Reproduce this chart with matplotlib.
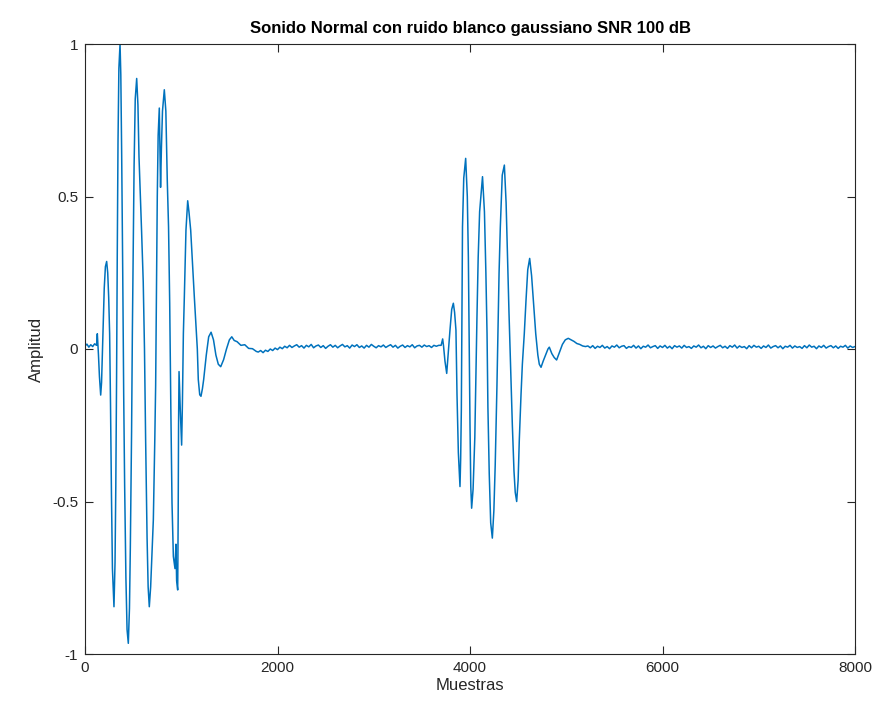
"""
Sonido normal (PCG) con ruido blanco gaussiano, SNR 100 dB.
"""
import numpy as np
import matplotlib
matplotlib.use("Agg")
import matplotlib.pyplot as plt

plt.rcParams['font.family'] = ['Liberation Sans', 'DejaVu Sans']
plt.rcParams['axes.unicode_minus'] = False

# leading baseline (samples 0..120)
lead_x = [0, 20, 40, 60, 80, 100, 120]
lead_y = [0.010, 0.016, 0.006, 0.014, 0.008, 0.017, 0.012]

# first heart sound (S1)
s1_x = [128, 140, 150, 163, 172, 180, 190, 200, 212, 225, 236, 246, 256,
        265, 275, 285, 301, 312, 320, 328, 335, 343, 352, 364, 372, 381,
        392, 402, 412, 425, 437, 450, 462, 471, 484, 492, 500, 510, 522,
        537, 550, 561, 588, 605, 618, 630, 645, 656, 668, 682, 697, 710,
        725, 734, 742, 751, 760, 772, 780, 785, 794, 805, 824, 840, 855,
        868, 880, 892, 904, 918, 935, 945, 952, 963, 968, 972, 977, 990,
        1004, 1012, 1022, 1032, 1049, 1067, 1080, 1098, 1136, 1167, 1177,
        1192, 1205, 1220, 1233, 1260, 1285, 1310, 1335, 1360, 1385, 1410,
        1440, 1470, 1500, 1525, 1550, 1580, 1620, 1660, 1700, 1740, 1780]
s1_y = [0.050, -0.020, -0.090, -0.151, -0.110, -0.020, 0.100, 0.200,
        0.270, 0.287, 0.250, 0.170, 0.050, -0.180, -0.480, -0.720, -0.845,
        -0.700, -0.450, -0.100, 0.300, 0.680, 0.920, 1.000, 0.900, 0.640,
        0.250, -0.150, -0.450, -0.750, -0.920, -0.965, -0.850, -0.650,
        -0.270, 0.050, 0.300, 0.600, 0.820, 0.887, 0.800, 0.630, 0.385,
        0.220, 0.000, -0.300, -0.620, -0.780, -0.845, -0.780, -0.660,
        -0.560, -0.300, -0.120, 0.170, 0.500, 0.700, 0.790, 0.620, 0.530,
        0.660, 0.780, 0.850, 0.780, 0.550, 0.400, 0.150, -0.200, -0.505,
        -0.680, -0.720, -0.640, -0.760, -0.790, -0.550, -0.250, -0.074,
        -0.200, -0.315, -0.180, 0.050, 0.170, 0.390, 0.486, 0.450, 0.390,
        0.170, 0.000, -0.100, -0.150, -0.155, -0.130, -0.100, -0.020,
        0.040, 0.055, 0.030, -0.020, -0.050, -0.058, -0.035, 0.000, 0.030,
        0.040, 0.028, 0.024, 0.012, 0.014, 0.002, 0.001, -0.008]

# baseline between the sounds (samples 1800..3675, every 25)
mid_y = [-0.010, -0.005, -0.012, -0.004, -0.008, 0.000, -0.005, 0.003, -0.002, 0.006,
         0.001, 0.009, 0.004, 0.012, 0.005, 0.010, 0.014, 0.006, 0.011, 0.003,
         0.012, 0.007, 0.015, 0.004, 0.010, 0.013, 0.005, 0.011, 0.002, 0.009,
         0.014, 0.006, 0.012, 0.004, 0.010, 0.015, 0.007, 0.011, 0.003, 0.013,
         0.008, 0.014, 0.005, 0.010, 0.003, 0.012, 0.006, 0.015, 0.009, 0.004,
         0.011, 0.007, 0.013, 0.005, 0.010, 0.014, 0.006, 0.012, 0.003, 0.009,
         0.013, 0.005, 0.011, 0.007, 0.014, 0.004, 0.010, 0.012, 0.006, 0.013,
         0.008, 0.011, 0.005, 0.012, 0.009, 0.012]

# second heart sound (S2)
s2_x = [3700, 3716, 3725, 3740, 3758, 3770, 3792, 3810, 3827, 3840, 3854,
        3865, 3879, 3896, 3903, 3910, 3916, 3922, 3935, 3955, 3972, 3983,
        3992, 4000, 4008, 4017, 4032, 4050, 4062, 4072, 4085, 4100, 4130,
        4150, 4165, 4177, 4186, 4200, 4215, 4232, 4248, 4262, 4280, 4292,
        4302, 4315, 4335, 4357, 4375, 4390, 4405, 4420, 4440, 4457, 4470,
        4485, 4500, 4512, 4530, 4544, 4564, 4582, 4600, 4620, 4640, 4658,
        4683, 4705, 4720, 4738, 4760, 4785, 4810, 4824, 4850, 4875, 4900,
        4930, 4960, 4990, 5021, 5050, 5080, 5110, 5140, 5170, 5200]
s2_y = [0.012, 0.033, 0.010, -0.040, -0.080, -0.030, 0.062, 0.130, 0.150,
        0.120, 0.062, -0.150, -0.340, -0.451, -0.360, -0.200, 0.100, 0.400,
        0.560, 0.625, 0.500, 0.300, 0.000, -0.250, -0.450, -0.522, -0.460,
        -0.290, -0.080, 0.100, 0.300, 0.450, 0.565, 0.450, 0.250, 0.050,
        -0.190, -0.410, -0.570, -0.620, -0.530, -0.380, -0.120, 0.080,
        0.250, 0.400, 0.570, 0.603, 0.480, 0.300, 0.120, -0.040, -0.250,
        -0.400, -0.470, -0.500, -0.430, -0.300, -0.150, -0.050, 0.050,
        0.160, 0.260, 0.297, 0.240, 0.160, 0.050, -0.020, -0.050, -0.060,
        -0.040, -0.020, 0.000, 0.006, -0.015, -0.028, -0.036, -0.010,
        0.015, 0.030, 0.035, 0.030, 0.025, 0.018, 0.015, 0.010, 0.008]

# trailing baseline (samples 5225..8000, every 25)
tail_y = [0.010, 0.004, 0.011, 0.002, 0.009, 0.005, 0.012, 0.003, 0.008, 0.001,
          0.010, 0.006, 0.013, 0.004, 0.009, 0.011, 0.002, 0.008, 0.005, 0.012,
          0.003, 0.010, 0.001, 0.009, 0.006, 0.013, 0.004, 0.008, 0.011, 0.002,
          0.010, 0.005, 0.012, 0.003, 0.009, 0.001, 0.011, 0.006, 0.010, 0.003,
          0.012, 0.005, 0.008, 0.002, 0.010, 0.006, 0.013, 0.004, 0.009, 0.001,
          0.011, 0.005, 0.010, 0.003, 0.008, 0.012, 0.004, 0.009, 0.002, 0.011,
          0.006, 0.013, 0.003, 0.010, 0.005, 0.008, 0.001, 0.011, 0.004, 0.012,
          0.006, 0.009, 0.002, 0.010, 0.005, 0.013, 0.003, 0.008, 0.011, 0.004,
          0.010, 0.001, 0.009, 0.006, 0.012, 0.003, 0.010, 0.005, 0.008, 0.002,
          0.011, 0.004, 0.013, 0.006, 0.009, 0.001, 0.010, 0.005, 0.012, 0.003,
          0.008, 0.011, 0.004, 0.010, 0.002, 0.009, 0.006, 0.012, 0.003, 0.010,
          0.005, 0.008]

x_ticks = [0, 2000, 4000, 6000, 8000]
x_labels = ["0", "2000", "4000", "6000", "8000"]
y_ticks = [-1, -0.5, 0, 0.5, 1]
y_labels = ["-1", "-0.5", "0", "0.5", "1"]

# sample index of the evenly spaced baseline stretches
mid_x = list(range(1800, 1800 + 25 * len(mid_y), 25))
tail_x = list(range(5225, 5225 + 25 * len(tail_y), 25))

x = np.array(lead_x + s1_x + mid_x + s2_x + tail_x)
y = np.array(lead_y + s1_y + mid_y + s2_y + tail_y)

fig = plt.figure(figsize=(8.77, 7.05), dpi=100)
ax = fig.add_axes([85 / 877, 1 - 654 / 705, 770 / 877, 610 / 705])

ax.plot(x, y, color="#0072BD", linewidth=1.1)

ax.set_xlim(0, 8000)
ax.set_ylim(-1, 1)
ax.set_xticks(x_ticks)
ax.set_xticklabels(x_labels)
ax.set_yticks(y_ticks)
ax.set_yticklabels(y_labels)
ax.tick_params(direction="in", length=6, width=0.8, top=True, right=True,
               labelsize=11, colors="#262626", pad=5)
for s in ax.spines.values():
    s.set_color("#262626")
    s.set_linewidth(0.8)

ax.set_title("Sonido Normal con ruido blanco gaussiano SNR 100 dB",
             fontsize=12, fontweight="bold", pad=8)
ax.set_xlabel("Muestras", fontsize=12, color="#262626", labelpad=2)
ax.set_ylabel("Amplitud", fontsize=12, color="#262626", labelpad=6)

fig.savefig("out.png", dpi=100)
